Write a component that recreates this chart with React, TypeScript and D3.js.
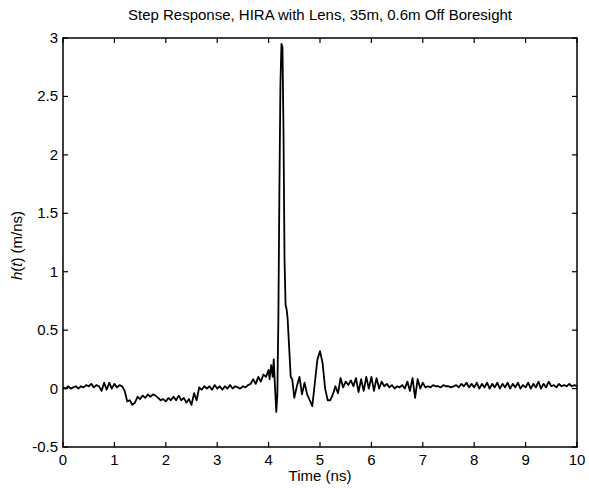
import React from "react";
import * as d3 from "d3";

const TITLE = "Step Response, HIRA with Lens, 35m, 0.6m Off Boresight";
const X_TICKS = [0, 1, 2, 3, 4, 5, 6, 7, 8, 9, 10];
const Y_TICKS = [-0.5, 0, 0.5, 1, 1.5, 2, 2.5, 3];

// [time (ns), h(t) (m/ns)]
const preSamples: [number, number][] = [
  [0.0, 0.01], [0.05, 0.0], [0.1, 0.02], [0.15, 0.0], [0.2, 0.01], [0.25, 0.02], [0.3, 0.0], [0.35, 0.02],
  [0.4, 0.01], [0.45, 0.03], [0.5, 0.02], [0.55, 0.04], [0.6, 0.01], [0.65, 0.03], [0.7, 0.02], [0.75, -0.02],
  [0.8, 0.05], [0.85, -0.01], [0.9, 0.05], [0.95, 0.0], [1.0, 0.04], [1.05, 0.01], [1.1, 0.03], [1.15, 0.02],
  [1.2, -0.02], [1.25, -0.11], [1.3, -0.1], [1.35, -0.14], [1.4, -0.12], [1.45, -0.07], [1.5, -0.09], [1.55, -0.06],
  [1.6, -0.08], [1.65, -0.05], [1.7, -0.07], [1.75, -0.05], [1.8, -0.06], [1.85, -0.08], [1.9, -0.1], [1.95, -0.09],
  [2.0, -0.11], [2.05, -0.08], [2.1, -0.1], [2.15, -0.07], [2.2, -0.1], [2.25, -0.06], [2.3, -0.1], [2.35, -0.08],
  [2.4, -0.12], [2.45, -0.09], [2.5, -0.14], [2.55, -0.04], [2.6, -0.1], [2.65, 0.01], [2.7, -0.01], [2.75, 0.02],
  [2.8, 0.0], [2.85, 0.02], [2.9, -0.01], [2.95, 0.03], [3.0, 0.0], [3.05, 0.02], [3.1, -0.01], [3.15, 0.02],
  [3.2, 0.0], [3.25, 0.03], [3.3, 0.0], [3.35, 0.02], [3.4, 0.01], [3.45, 0.0], [3.5, 0.02], [3.55, 0.01],
  [3.6, 0.03], [3.65, 0.04], [3.7, 0.08], [3.75, 0.04], [3.8, 0.1], [3.85, 0.06], [3.9, 0.12], [3.95, 0.1],
  [4.0, 0.16], [4.02, 0.08], [4.05, 0.2], [4.08, 0.1], [4.1, 0.25],
];

const pulseSamples: [number, number][] = [
  [4.12, 0.05], [4.15, -0.2], [4.17, -0.05], [4.19, 0.6], [4.21, 1.7], [4.23, 2.6], [4.25, 2.95], [4.27, 2.92],
  [4.29, 2.2], [4.31, 1.1], [4.33, 0.72], [4.35, 0.68], [4.37, 0.6], [4.4, 0.35], [4.43, 0.1], [4.46, 0.08],
  [4.5, -0.08], [4.55, 0.02], [4.6, 0.1], [4.65, -0.05], [4.7, 0.05], [4.75, -0.05], [4.8, -0.1], [4.85, -0.15],
  [4.9, 0.05], [4.95, 0.25], [5.0, 0.32], [5.05, 0.22], [5.1, 0.0], [5.15, -0.1], [5.2, -0.1], [5.25, -0.05],
];

const tailSamples: [number, number][] = [
  [5.3, 0.02], [5.35, -0.04], [5.4, 0.09], [5.45, 0.01], [5.5, 0.06], [5.55, 0.03], [5.6, 0.07], [5.65, 0.02],
  [5.7, 0.09], [5.75, -0.03], [5.8, 0.08], [5.85, -0.02], [5.9, 0.1], [5.95, 0.0], [6.0, 0.1], [6.05, -0.02],
  [6.1, 0.09], [6.15, 0.0], [6.2, 0.06], [6.25, 0.02], [6.3, 0.04], [6.35, 0.01], [6.4, 0.03], [6.45, 0.0],
  [6.5, 0.02], [6.55, 0.01], [6.6, 0.03], [6.65, 0.0], [6.7, 0.06], [6.75, -0.02], [6.8, 0.09], [6.85, -0.08],
  [6.9, 0.08], [6.95, 0.0], [7.0, 0.05], [7.05, 0.01], [7.1, 0.02], [7.15, 0.01], [7.2, 0.03], [7.25, 0.02],
  [7.3, 0.02], [7.35, 0.01], [7.4, 0.03], [7.45, 0.02], [7.5, 0.02], [7.55, 0.01], [7.6, 0.02], [7.65, 0.03],
  [7.7, 0.01], [7.75, 0.04], [7.8, 0.02], [7.85, 0.05], [7.9, 0.01], [7.95, 0.04], [8.0, 0.01], [8.05, 0.05],
  [8.1, 0.0], [8.15, 0.04], [8.2, 0.01], [8.25, 0.05], [8.3, 0.0], [8.35, 0.04], [8.4, 0.01], [8.45, 0.05],
  [8.5, 0.0], [8.55, 0.04], [8.6, 0.01], [8.65, 0.05], [8.7, 0.0], [8.75, 0.04], [8.8, 0.01], [8.85, 0.05],
  [8.9, 0.0], [8.95, 0.03], [9.0, 0.01], [9.05, 0.05], [9.1, 0.0], [9.15, 0.04], [9.2, 0.01], [9.25, 0.06],
  [9.3, 0.0], [9.35, 0.04], [9.4, 0.01], [9.45, 0.06], [9.5, 0.02], [9.55, 0.03], [9.6, 0.01], [9.65, 0.04],
  [9.7, 0.02], [9.75, 0.03], [9.8, 0.02], [9.85, 0.04], [9.9, 0.02], [9.95, 0.03], [10.0, 0.02],
];

const W = 589;
const H = 489;
const M = { left: 63, right: 12, top: 38, bottom: 42 };

export default function App() {
  const data = [...preSamples, ...pulseSamples, ...tailSamples];
  const x = d3.scaleLinear().domain([0, 10]).range([M.left, W - M.right]);
  const y = d3.scaleLinear().domain([-0.5, 3]).range([H - M.bottom, M.top]);
  const line = d3
    .line<[number, number]>()
    .x((d) => x(d[0]))
    .y((d) => y(d[1]));
  const x0 = x(0), x1 = x(10), y0 = y(-0.5), y1 = y(3);
  const tl = 5;
  const font = "'Liberation Sans', Arial, Helvetica, sans-serif";
  return (
    <svg
      width={W}
      height={H}
      style={{ position: "absolute", left: 0, top: 0, background: "#fff" }}
      fontFamily={font}
    >
      <rect x={0} y={0} width={W} height={H} fill="#fff" />
      <text x={(x0 + x1) / 2} y={20} textAnchor="middle" fontSize={15} fill="#000">
        {TITLE}
      </text>
      <path d={line(data) || ""} fill="none" stroke="#000" strokeWidth={1.8} strokeLinejoin="round" />
      <rect x={x0} y={y1} width={x1 - x0} height={y0 - y1} fill="none" stroke="#000" strokeWidth={1.5} />
      {X_TICKS.map((t) => (
        <g key={"x" + t}>
          <line x1={x(t)} x2={x(t)} y1={y0} y2={y0 - tl} stroke="#000" strokeWidth={1.2} />
          <line x1={x(t)} x2={x(t)} y1={y1} y2={y1 + tl} stroke="#000" strokeWidth={1.2} />
          <text x={x(t)} y={y0 + 18} textAnchor="middle" fontSize={15} fill="#000">
            {t}
          </text>
        </g>
      ))}
      {Y_TICKS.map((t) => (
        <g key={"y" + t}>
          <line x1={x0} x2={x0 + tl} y1={y(t)} y2={y(t)} stroke="#000" strokeWidth={1.2} />
          <line x1={x1} x2={x1 - tl} y1={y(t)} y2={y(t)} stroke="#000" strokeWidth={1.2} />
          <text x={x0 - 5} y={y(t) + 5} textAnchor="end" fontSize={15} fill="#000">
            {t}
          </text>
        </g>
      ))}
      <text x={(x0 + x1) / 2} y={H - 8} textAnchor="middle" fontSize={15} fill="#000">
        Time (ns)
      </text>
      <text
        transform={`translate(22, ${(y0 + y1) / 2 + 3}) rotate(-90)`}
        textAnchor="middle"
        fontSize={15}
        fill="#000"
      >
        <tspan fontStyle="italic">h</tspan>(<tspan fontStyle="italic">t</tspan>) (m/ns)
      </text>
    </svg>
  );
}
